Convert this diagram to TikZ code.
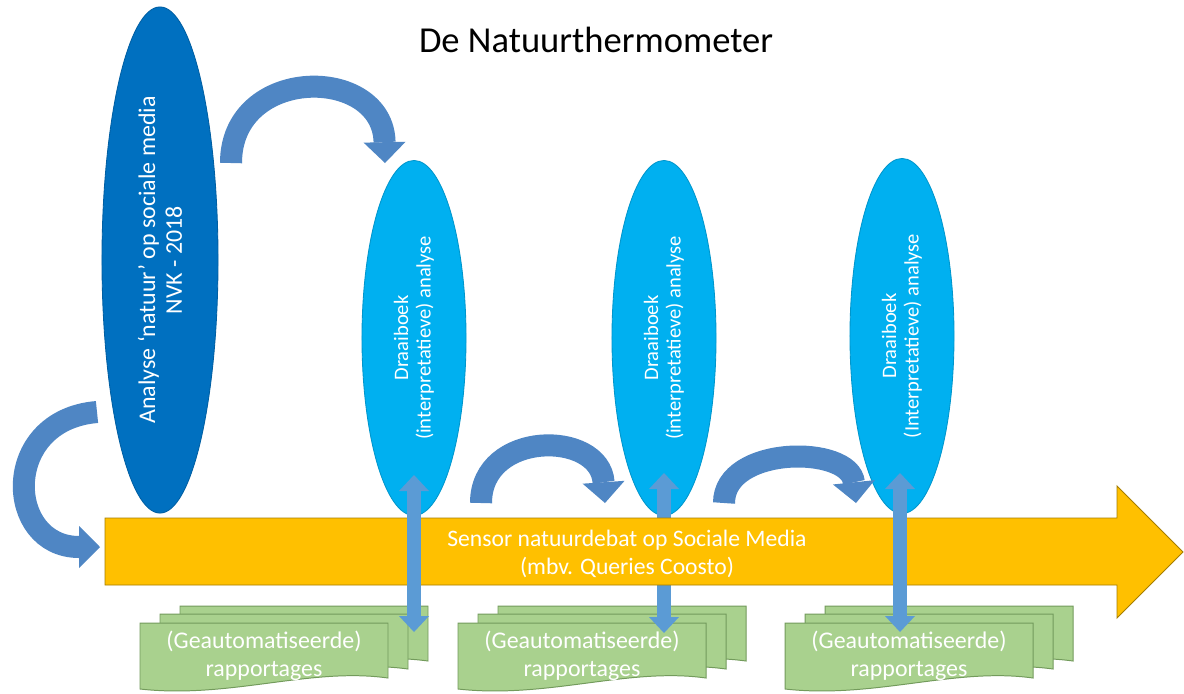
\documentclass[tikz,border=0pt]{standalone}
\usepackage{fontspec}
\setmainfont{Carlito}
\usetikzlibrary{arrows.meta,shapes.geometric}

\definecolor{donker}{HTML}{0070C0}
\definecolor{licht}{HTML}{00B0F0}
\definecolor{oranje}{HTML}{FFC000}
\definecolor{groen}{HTML}{A9D18E}
\definecolor{groenrand}{HTML}{739B5C}
\definecolor{pijl}{HTML}{5B9BD5}
\definecolor{pijldonker}{HTML}{4F86C4}

\tikzset{
  kop/.style={font=\fontsize{26}{30}\selectfont},
  analyse/.style={ellipse, rotate=90, fill=donker, draw=donker!85!black, line width=0.6pt,
    minimum width=12.65cm, minimum height=2.9cm, inner sep=0pt, text=white, align=center,
    font=\fontsize{17}{19}\selectfont},
  draaiboek/.style={ellipse, rotate=90, fill=licht, draw=licht!85!black, line width=0.6pt,
    minimum width=8.875cm, minimum height=2.6cm, inner sep=0pt, text=white, align=center,
    font=\fontsize{14.6}{16}\selectfont},
  sensorpijl/.style={fill=oranje, draw=oranje!65!black, line width=0.6pt},
  sensortekst/.style={text=white, align=center, font=\fontsize{16.8}{20}\selectfont},
  blad/.style={fill=groen, draw=groenrand, line width=0.7pt},
  rapporttekst/.style={text=white, align=center, font=\fontsize{17}{19.5}\selectfont},
  heenweer/.style={draw=pijl, line width=0.35cm,
    {Triangle[width=0.75cm,length=0.4cm,line width=0pt]}-{Triangle[width=0.75cm,length=0.4cm,line width=0pt]}},
  boog/.style={draw=pijldonker, line width=0.55cm,
    -{Triangle[width=1.05cm,length=0.52cm,line width=0pt]}},
  pics/rapport/.style={code={
    \foreach \dx/\dy in {40/-17,20/-9,0/0}
      \draw[blad, shift={(\dx,\dy)}] (0,0) -- (248,0) -- (248,55)
        .. controls (170,44) and (90,76) .. (0,66) -- cycle;
    \node[rapporttekst] (-txt) at (124,33) {(Geautomatiseerde)\\rapportages};
  }}
}

\begin{document}
\begin{tikzpicture}[x=0.025cm, y=-0.025cm]
  \fill[white] (0,0) rectangle (1184,693);
  \useasboundingbox (0,0) rectangle (1184,693);

  \node[kop] (titel) at (596,40) {De Natuurthermometer};

  % ellipsen
  \node[analyse] (nvk) at (160,260) {Analyse ‘natuur’ op sociale media\\NVK - 2018};
  \node[draaiboek] (dr1) at (414,338) {Draaiboek\\(interpretatieve) analyse};
  \node[draaiboek] (dr2) at (664,338) {Draaiboek\\(interpretatieve) analyse};
  \node[draaiboek] (dr3) at (902,336) {Draaiboek\\(Interpretatieve) analyse};

  % rapportages
  \pic (rap1) at (140,623) {rapport};
  \pic (rap2) at (458,623) {rapport};
  \pic (rap3) at (785,623) {rapport};

  % pijlen tussen draaiboek en rapportage
  \coordinate (op1) at (414,475);
  \coordinate (neer1) at (414,632);
  \coordinate (op2) at (664,473);
  \coordinate (neer2) at (664,633);
  \coordinate (op3) at (900,473);
  \coordinate (neer3) at (900,632);
  \draw[heenweer] (op2) -- (neer2);

  % sensor
  \draw[sensorpijl] (105,518) -- (1117,518) -- (1117,486) -- (1183,552)
    -- (1117,618) -- (1117,585) -- (105,585) -- cycle;
  \node[sensortekst] (sensor) at (627,554) {Sensor natuurdebat op Sociale Media\\(mbv. Queries Coosto)};

  \foreach \i in {1,3}
    \draw[heenweer] (op\i) -- (neer\i);

  % gebogen pijlen
  \coordinate (b1s) at (231,163);
  \coordinate (b1e) at (385,163);
  \coordinate (b2s) at (97,412);
  \coordinate (b2e) at (100,547);
  \coordinate (b3s) at (481,503);
  \coordinate (b3e) at (605,503);
  \coordinate (b4s) at (724,503);
  \coordinate (b4e) at (856,503);
  \draw[boog] (b1s) .. controls (231,65) and (383,65) .. (b1e);
  \draw[boog] (b2s) .. controls (0,420) and (5,547) .. (b2e);
  \draw[boog] (b3s) .. controls (481,430) and (600,430) .. (b3e);
  \draw[boog] (b4s) .. controls (724,445) and (850,445) .. (b4e);
\end{tikzpicture}
\end{document}
